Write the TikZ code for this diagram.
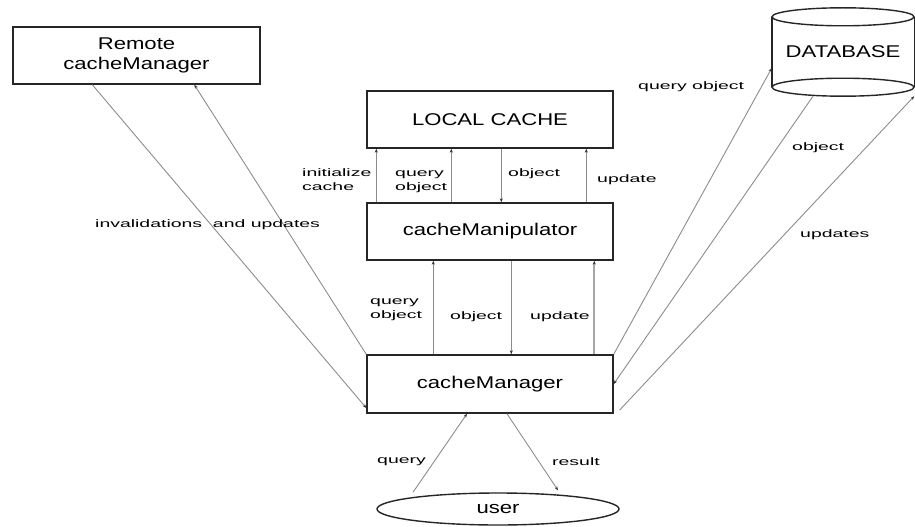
\documentclass[tikz,border=0pt]{standalone}
\usepackage{fontspec}
\setmainfont{Liberation Sans}
\newfontfamily\boxfont{Liberation Sans}[FakeStretch=1.3]
\newfontfamily\lblfont{Liberation Sans}[FakeStretch=1.8]
\usetikzlibrary{arrows.meta,shapes.geometric}
\tikzset{
  box/.style={draw=black!85,line width=1.4pt,minimum width=246pt,minimum height=57pt,inner sep=0pt,font=\boxfont\fontsize{17}{20}\selectfont,align=center},
  conn/.style={draw=black!45,line width=0.9pt,-{Stealth[length=4pt,width=3pt,black!80]}},
  lbl/.style={anchor=west,inner sep=0pt,align=left,font=\lblfont\fontsize{10.8}{14}\selectfont}
}
\begin{document}
\begin{tikzpicture}[x=1pt,y=-1pt]
            \useasboundingbox (0,0) rectangle (915,527);

            \node[box,minimum width=247pt] (remote) at (136.5,55.5) {Remote\\cacheManager};
            \node[box] (local) at (490,119.5) {LOCAL CACHE};
            \node[box] (manip) at (490,231.5) {cacheManipulator};
            \node[box,minimum height=58pt] (mgr) at (490,384) {cacheManager};
            \node[box,ellipse,minimum width=242pt,minimum height=32pt] (user) at (498,509) {user};
            \node[minimum width=142pt,minimum height=88pt,inner sep=0pt,font=\boxfont\fontsize{17}{20}\selectfont] (db) at (843,52) {\raisebox{-3pt}{DATABASE}};

            % database cylinder
            \draw[black!85,line width=1.4pt] ([yshift=-9pt]db.north) ellipse [x radius=71,y radius=9];
            \draw[black!85,line width=1.4pt] ([yshift=9pt]db.south) ellipse [x radius=71,y radius=9];
            \draw[black!85,line width=1.4pt] ([yshift=-9pt]db.north west) -- ([yshift=9pt]db.south west);
            \draw[black!85,line width=1.4pt] ([yshift=-9pt]db.north east) -- ([yshift=9pt]db.south east);

            % remote cacheManager
            \draw[conn] ([xshift=80pt]remote.south west) -- ([yshift=-24pt]mgr.west);
            \draw[conn] (mgr.north west) -- ([xshift=182pt]remote.south west);

            % local cache <-> cacheManipulator
            \draw[conn] ([xshift=10pt]manip.north west) -- ([xshift=10pt]local.south west);
            \draw[conn] ([xshift=85pt]manip.north west) -- ([xshift=85pt]local.south west);
            \draw[conn] ([xshift=135pt]local.south west) -- ([xshift=135pt]manip.north west);
            \draw[conn] ([xshift=220pt]manip.north west) -- ([xshift=220pt]local.south west);

            % cacheManipulator <-> cacheManager
            \draw[conn] ([xshift=67pt]mgr.north west) -- ([xshift=67pt]manip.south west);
            \draw[conn] ([xshift=145pt]manip.south west) -- ([xshift=145pt]mgr.north west);
            \draw[conn,draw=black!35,line width=2pt] ([xshift=228pt]mgr.north west) -- ([xshift=228pt]manip.south west);

            % database
            \draw[conn] (mgr.north east) -- ([yshift=-16pt]db.west);
            \draw[conn] ([xshift=-30pt]db.south) -- (mgr.east);
            \draw[conn] ([xshift=6pt,yshift=-26pt]mgr.east) -- (db.south east);

            % user
            \draw[conn] ([xshift=-85pt]user.north) -- ([xshift=-23pt]mgr.south);
            \draw[conn] ([xshift=17pt]mgr.south) -- ([xshift=60pt,yshift=2pt]user.north);

            % labels
            \node[lbl] (linit) at (302,180) {initialize\\cache};
            \node[lbl] (lqo1) at (395,182) {query\\object};
            \node[lbl] (lobj1) at (508,174) {object};
            \node[lbl] (lupd1) at (597,180) {update};
            \node[lbl] (lqo2) at (370,310) {query\\object};
            \node[lbl] (lobj2) at (450,317) {object};
            \node[lbl] (lupd2) at (530,317) {update};
            \node[lbl] (lqry) at (377,462) {query};
            \node[lbl] (lres) at (552,462) {result};
            \node[lbl] (ldbq) at (638,87) {query object};
            \node[lbl] (ldbo) at (792,148) {object};
            \node[lbl] (ldbu) at (800,235) {updates};
            \node[lbl] (linv) at (95,225) {invalidations\ \ and updates};
        \end{tikzpicture}
\end{document}
